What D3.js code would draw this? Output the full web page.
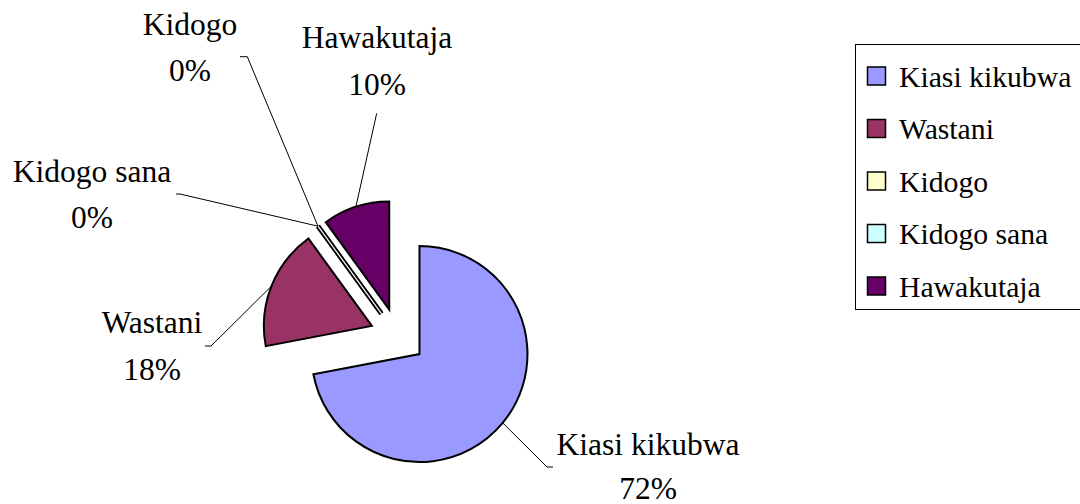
<!DOCTYPE html>
<html>
<head>
<meta charset="utf-8">
<script src="https://cdn.jsdelivr.net/npm/d3@7"></script>
<style>
  html, body { margin: 0; padding: 0; background: #fff; }
  svg { display: block; }
</style>
</head>
<body>
<svg id="chart" width="1080" height="504"></svg>
<script>
// ---- data ----
const categories = ["Kiasi kikubwa", "Wastani", "Kidogo", "Kidogo sana", "Hawakutaja"];
const values = [72, 18, 0, 0, 10];
const colors = ["#9999FF", "#993366", "#FFFFCC", "#CCFFFF", "#660066"];

// ---- layout ----
const W = 1080, H = 504;
const FONT = "'Liberation Serif', 'Times New Roman', Tinos, serif";
const cx = 397.9, cy = 336.2, R = 108, explode = 28;
const labelFont = 31.5, legendFont = 29.7;
// label anchors: text centre x, baseline of the name and of the percentage, leader elbow points
const labelLayout = [
  { x: 648, y1: 455, y2: 498.5, leader: [[547, 467], [553, 467]] },
  { x: 152, y1: 333, y2: 380, leader: [[211, 346], [205, 346]] },
  { x: 190, y1: 35, y2: 81, leader: [[247.3, 56.7], [240, 56.7]] },
  { x: 92, y1: 182, y2: 228, leader: [[180, 194], [176, 194]] },
  { x: 377, y1: 48, y2: 95, leader: [[376.7, 113.3]] }
];

const svg = d3.select("#chart");
svg.append("rect").attr("width", W).attr("height", H).attr("fill", "#fff");

const data = categories.map((c, i) => ({ name: c, value: values[i], color: colors[i], i }));
const total = d3.sum(values);
const pct = v => Math.round(v / total * 100) + "%";

const pie = d3.pie().value(d => d.value).sort(null).startAngle(0).endAngle(2 * Math.PI);
const arcs = pie(data);
const arc = d3.arc().innerRadius(0).outerRadius(R);

const dir = a => [Math.sin(a), -Math.cos(a)];
const g = svg.append("g");

arcs.forEach(a => {
  const mid = (a.startAngle + a.endAngle) / 2;
  const [dx, dy] = dir(mid);
  const ox = cx + dx * explode, oy = cy + dy * explode;
  const sg = g.append("g").attr("transform", `translate(${ox},${oy})`);
  if (a.data.value > 0) {
    sg.append("path").attr("d", arc(a))
      .attr("fill", a.data.color).attr("stroke", "#000").attr("stroke-width", 2)
      .attr("stroke-linejoin", "miter");
  } else {
    sg.append("path").attr("d", arc(a))
      .attr("fill", "none").attr("stroke", "#000").attr("stroke-width", 4.6);
    sg.append("path").attr("d", arc(a))
      .attr("fill", "none").attr("stroke", "#fff").attr("stroke-width", 1.2);
  }
  // leader line from arc midpoint
  const start = [ox + dx * R, oy + dy * R];
  const L = labelLayout[a.data.i];
  const pts = [start].concat(L.leader);
  svg.append("path")
    .attr("d", d3.line()(pts))
    .attr("fill", "none").attr("stroke", "#000").attr("stroke-width", 1);
  const t = svg.append("text").attr("text-anchor", "middle")
    .attr("font-family", FONT).attr("font-size", labelFont).attr("fill", "#000");
  t.append("tspan").attr("x", L.x).attr("y", L.y1).text(a.data.name);
  t.append("tspan").attr("x", L.x).attr("y", L.y2).text(pct(a.data.value));
});

// ---- legend ----
const lg = svg.append("g");
lg.append("rect").attr("x", 855.5).attr("y", 44.5).attr("width", 240).attr("height", 265)
  .attr("fill", "#fff").attr("stroke", "#000").attr("stroke-width", 1);
data.forEach((d, i) => {
  const y = 67 + i * 52.5;
  lg.append("rect").attr("x", 867.5).attr("y", y).attr("width", 18).attr("height", 18)
    .attr("fill", d.color).attr("stroke", "#000").attr("stroke-width", 1.5);
  lg.append("text").attr("x", 899).attr("y", y + 19.7)
    .attr("font-family", FONT).attr("font-size", legendFont).attr("fill", "#000").text(d.name);
});
</script>
</body>
</html>
